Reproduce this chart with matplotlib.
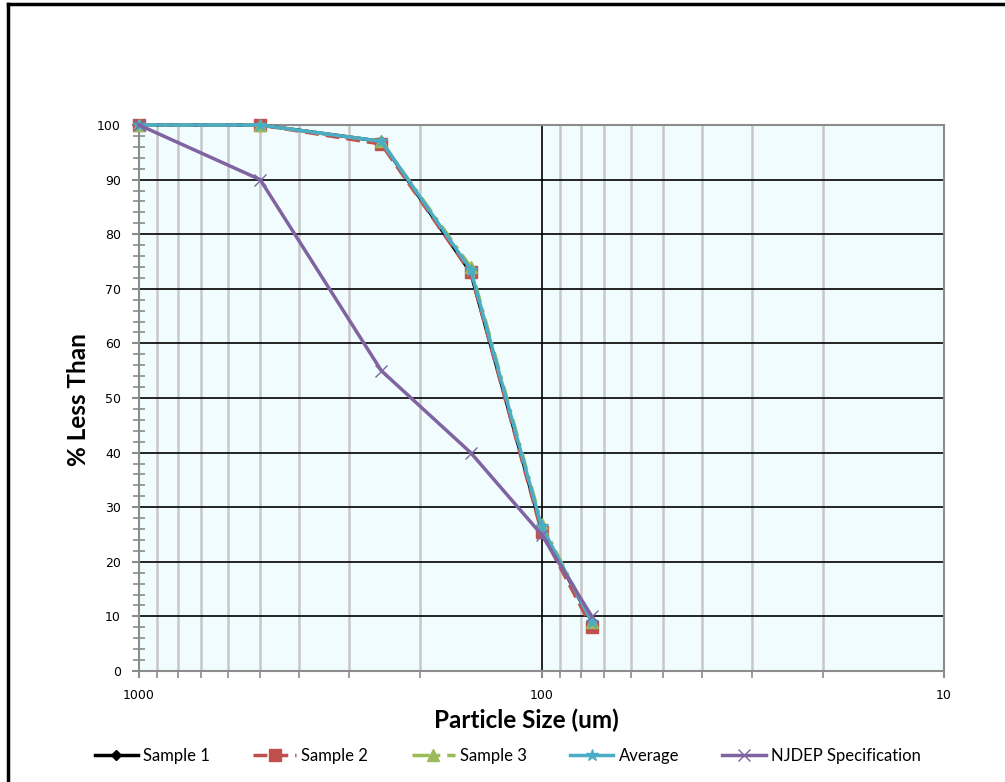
import matplotlib
matplotlib.use('Agg')
import matplotlib.pyplot as plt
from matplotlib.lines import Line2D
from matplotlib.ticker import FixedLocator, NullFormatter, MultipleLocator

# sieve sizes (um) and cumulative % passing
sizes = [1000, 500, 250, 150, 100, 75]
sample_1 = [100, 100, 97, 73, 26, 9]
sample_2 = [100, 100, 96.5, 73, 25.5, 8]
sample_3 = [100, 100, 97, 74, 27, 9]
average = [100, 100, 97, 73.5, 26.5, 9]
njdep_spec = [100, 90, 55, 40, 25, 10]

x_ticks = [1000, 100, 10]
x_tick_labels = ['1000', '100', '10']
y_ticks = list(range(0, 101, 10))

tick_font = 'DejaVu Sans'
label_font = 'Lato'

fig = plt.figure(figsize=(10.05, 7.82), dpi=100)
ax = fig.add_axes([139 / 1005, 1 - 671 / 782, (944 - 139) / 1005, (671 - 125) / 782])
ax.set_facecolor('#f0fcfd')

series = [
    ('Sample 1', sample_1, dict(color='black', marker='D', ms=5, ls='-')),
    ('Sample 2', sample_2, dict(color='#c0504d', marker='s', ms=8, ls=(0, (4, 2)))),
    ('Sample 3', sample_3, dict(color='#9bbb59', marker='^', ms=8, ls=(0, (5, 2, 1, 2)))),
    ('Average', average, dict(color='#4bacc6', marker='*', ms=9, ls='-', mew=1)),
    ('NJDEP Specification', njdep_spec, dict(color='#8064a2', marker='x', ms=9, ls='-', mew=1)),
]
for name, vals, style in series:
    ax.plot(sizes, vals, label=name, lw=2.5, zorder=3, clip_on=False, **style)

ax.set_xscale('log')
ax.set_xlim(1000, 10)
ax.set_ylim(0, 100)

minor_x = [m * d for d in (10, 100) for m in range(2, 10)]
ax.xaxis.set_major_locator(FixedLocator(x_ticks))
ax.xaxis.set_minor_locator(FixedLocator(minor_x))
ax.xaxis.set_minor_formatter(NullFormatter())
ax.set_xticks(x_ticks, x_tick_labels)
ax.set_yticks(y_ticks)
ax.yaxis.set_minor_locator(MultipleLocator(2))

ax.grid(True, which='major', axis='both', color='black', lw=1.2, zorder=1)
ax.grid(True, which='minor', axis='x', color='#c8c8c8', lw=1.8, zorder=0)
ax.set_axisbelow(True)

for side in ax.spines.values():
    side.set_color('#8c8c8c')
    side.set_linewidth(1.5)

ax.tick_params(axis='both', which='major', direction='out', length=5, color='#8c8c8c',
               width=1.5, labelsize=9, pad=8)
ax.tick_params(axis='y', which='minor', direction='inout', length=8, color='#8c8c8c', width=1.2)
ax.tick_params(axis='x', which='minor', direction='out', length=5, color='#8c8c8c', width=1.2)
for lbl in ax.get_xticklabels() + ax.get_yticklabels():
    lbl.set_family(tick_font)

# axis titles: the x title sits a little left of the plot centre
fig.text(526 / 1005, 1 - 720 / 782, 'Particle Size (um)', ha='center', va='center',
         fontsize=17.5, fontweight='bold', family=label_font)
fig.text(78 / 1005, 1 - 400 / 782, '% Less Than', ha='center', va='center', rotation=90,
         fontsize=17.5, fontweight='bold', family=label_font)

fig.legend(loc='center', bbox_to_anchor=(0.505, 1 - 756 / 782), ncol=5, frameon=False,
           prop={'family': label_font, 'size': 12}, handlelength=2.6, columnspacing=2.6,
           handletextpad=0.3)

# outer frame around the chart
fig.add_artist(Line2D([8 / 1005, 8 / 1005], [0, 1 - 4 / 782], color='black', lw=2.5))
fig.add_artist(Line2D([8 / 1005, 1], [1 - 4 / 782, 1 - 4 / 782], color='black', lw=2.5))

fig.savefig('out.png', dpi=100)
